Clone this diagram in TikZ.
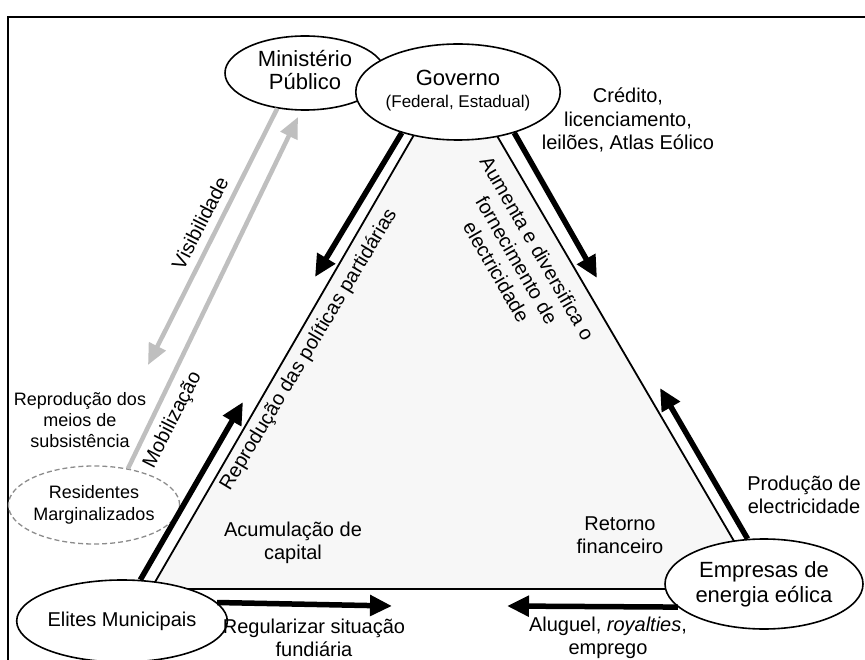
\documentclass[tikz,border=0pt]{standalone}
\usepackage{fontspec}
\setmainfont{Liberation Sans}
\usetikzlibrary{shapes.geometric,arrows.meta}

\tikzset{
  actor/.style={draw, ellipse, fill=white, line width=1.6pt, inner sep=0pt, align=center,
    font=\fontsize{22}{25}\selectfont},
  flow/.style={line width=5.5pt, -{Triangle[length=22pt,width=20pt]}},
  greyflow/.style={draw=black!25, line width=4.5pt, -{Triangle[length=21pt,width=18pt]}},
  lbl/.style={align=center, inner sep=0pt, font=\fontsize{20}{23.5}\selectfont},
}

\begin{document}
\begin{tikzpicture}[x=1pt,y=-1pt]
    \clip (0,0) rectangle (865,660);
    \draw[line width=1.2pt] (8,17) rectangle (885,690);

    % triangle
    \draw[fill=black!3, line width=1.8pt] (455,64) -- (151,589) -- (762,589) -- cycle;

    % actors
    \node[actor, minimum width=160pt, minimum height=74pt] (mp) at (305,73)
        {\raisebox{4pt}{\begin{tabular}{@{}c@{}}Ministério\\[-2pt]Público\end{tabular}}};
    \node[actor, minimum width=204pt, minimum height=96pt] (gov) at (458,92)
        {\raisebox{9pt}{\begin{tabular}{@{}c@{}}Governo\\[-3pt]{\fontsize{17}{20}\selectfont(Federal, Estadual)}\end{tabular}}};
    \node[actor, font=\fontsize{20}{24}\selectfont, minimum width=157pt, minimum height=82pt] (eli) at (122,621) {Elites Municipais};
    \node[actor, minimum width=198pt, minimum height=90pt] (emp) at (764,584) {Empresas de\\energia eólica};
    \node[actor, draw=black!45, dash pattern=on 5pt off 3pt, line width=1.3pt,
        font=\fontsize{18}{22}\selectfont, minimum width=158pt, minimum height=78pt] (res) at (94,505) {Residentes\\Marginalizados};

    % arrow tips
    \coordinate (govTip) at (315,277);
    \coordinate (eliTip) at (243,402);
    \coordinate (supTip) at (597,278);
    \coordinate (empTip) at (660,388);
    \coordinate (regTip) at (392,606);
    \coordinate (aluTip) at (507,606);
    \coordinate (visTip) at (148,365);
    \coordinate (mobTip) at (298,117);

    \draw[flow] (gov.216) -- (govTip);
    \draw[flow] (gov.324) -- (supTip);
    \draw[flow] (eli.66) -- (eliTip);
    \draw[flow] (emp.110) -- (empTip);
    \draw[flow] (eli.11) -- (regTip);
    \draw[flow] (emp.195) -- (aluTip);
    \draw[greyflow] (mp.232) -- (visTip);
    \draw[greyflow] (res.47) -- (mobTip);

    % labels
    \node[lbl] (credito) at (628,120) {Crédito,\\licenciamento,\\leilões, Atlas Eólico};
    \node[lbl, rotate=63] (visib) at (200,223) {Visibilidade};
    \node[lbl, rotate=63] (mobil) at (173,420) {Mobilização};
    \node[lbl, rotate=59] (partid) at (309,350) {Reprodução das políticas partidárias};
    \node[lbl, rotate=-60] (aumenta) at (517,260) {Aumenta e diversifica o\\fornecimento de\\electricidade};
    \node[lbl, font=\fontsize{18}{21}\selectfont] (subsist) at (80,420) {Reprodução dos\\meios de\\subsistência};
    \node[lbl] (producao) at (804,495) {Produção de\\electricidade};
    \node[lbl] (acumul) at (293,543) {Acumulação de\\capital};
    \node[lbl] (retorno) at (620,535) {Retorno\\financeiro};
    \node[lbl] (regul) at (314,638) {Regularizar situação\\fundiária};
    \node[lbl] (aluguel) at (608,638) {Aluguel, \textit{royalties},\\emprego};
\end{tikzpicture}
\end{document}
